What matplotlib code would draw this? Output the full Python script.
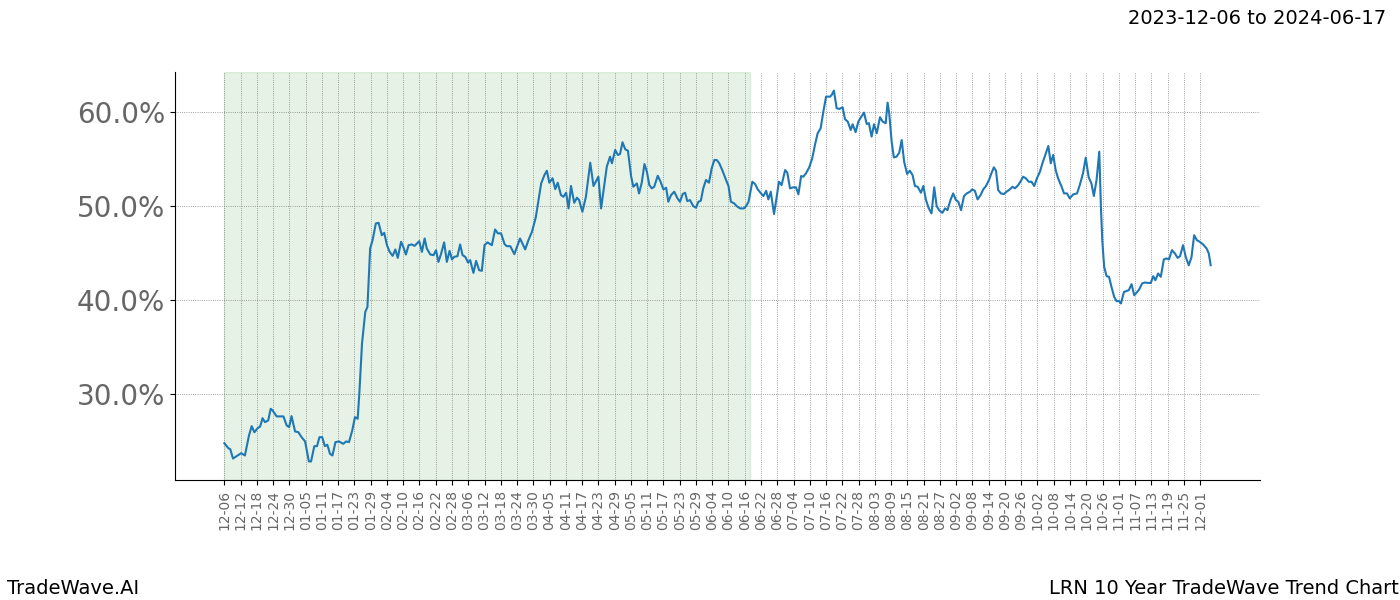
import numpy as np
import matplotlib
matplotlib.use('Agg')
import matplotlib.pyplot as plt
from matplotlib.ticker import FuncFormatter

# day offset from 2023-12-06 and trend value (%)
days = [0.0, 1.5, 2.2, 3.2, 4.5, 6.2, 7.6, 9.1, 10.1, 11.1, 12.3, 13.2, 14.1, 15.0, 16.2, 17.1, 17.8, 19.3, 21.8, 23.0,
        23.9, 24.8, 26.1, 27.3, 28.5, 29.8, 30.3, 31.2, 32.0, 33.2, 34.2, 35.1, 36.1, 37.1, 38.0, 39.0, 39.9, 41.0, 42.3, 43.9,
        44.9, 46.0, 47.2, 48.2, 49.2, 49.8, 50.8, 52.0, 52.8, 53.8, 54.7, 55.9, 56.9, 58.1, 59.0, 60.0, 61.0, 62.1, 63.1, 64.0,
        65.2, 66.1, 67.0, 68.0, 69.2, 70.2, 71.9, 72.9, 73.9, 74.7, 76.0, 77.2, 78.1, 79.0, 80.0, 81.1, 82.1, 83.1, 84.0, 84.8,
        86.0, 87.0, 87.9, 88.9, 89.9, 90.7, 91.9, 92.9, 94.0, 95.0, 96.0, 97.1, 98.7, 99.9, 100.9, 102.1, 103.4, 104.2, 105.5, 107.0,
        109.1, 111.0, 112.2, 113.5, 114.9, 115.9, 116.9, 118.1, 119.0, 119.9, 121.1, 122.1, 123.0, 124.2, 125.1, 126.1, 127.0, 127.9, 129.1, 130.1,
        130.9, 132.1, 133.4, 135.0, 136.2, 138.0, 139.0, 141.1, 142.3, 143.0, 144.2, 145.2, 146.0, 146.9, 147.9, 148.9, 150.1, 150.9, 152.2, 153.0,
        154.0, 155.0, 155.9, 156.8, 157.7, 158.6, 159.9, 160.8, 162.0, 163.0, 163.8, 164.8, 166.0, 167.2, 168.1, 169.1, 170.0, 170.8, 171.8, 173.0,
        174.0, 174.9, 175.8, 176.7, 177.7, 178.8, 179.8, 180.8, 181.7, 182.6, 183.7, 185.0, 186.0, 186.9, 188.1, 189.0, 190.3, 191.7, 192.5, 193.4,
        194.0, 194.8, 195.8, 196.8, 198.0, 198.9, 199.9, 200.7, 201.6, 202.8, 203.8, 204.6, 205.6, 206.9, 207.7, 208.7, 209.9, 210.9, 211.8, 212.8,
        213.6, 214.6, 215.8, 216.9, 217.9, 218.9, 220.0, 221.0, 222.0, 223.5, 224.1, 224.9, 225.9, 226.9, 228.1, 229.0, 230.0, 231.1, 231.8, 232.9,
        233.9, 234.9, 236.0, 237.0, 237.8, 238.8, 239.7, 240.7, 241.9, 242.9, 244.0, 244.7, 245.3, 246.2, 247.0, 248.0, 249.0, 249.9, 250.8, 251.9,
        252.9, 253.9, 254.8, 255.8, 257.0, 257.9, 258.8, 259.9, 260.9, 261.9, 262.8, 263.7, 264.9, 265.9, 266.8, 267.9, 268.9, 269.9, 270.8, 271.8,
        272.9, 273.9, 275.1, 275.9, 276.9, 277.9, 279.0, 280.0, 281.0, 282.1, 283.1, 283.9, 284.7, 285.5, 286.5, 287.6, 288.6, 289.8, 290.8, 291.7,
        292.9, 293.9, 294.7, 295.7, 296.8, 297.8, 298.8, 299.8, 300.9, 301.9, 303.0, 304.0, 304.9, 305.8, 306.7, 307.6, 308.9, 309.8, 310.9, 311.9,
        313.2, 314.6, 315.6, 316.8, 317.8, 318.9, 319.9, 320.8, 321.8, 322.8, 323.4, 323.9, 324.6, 325.5, 326.4, 327.3, 328.3, 329.2, 330.0, 330.8,
        331.9, 332.9, 333.7, 334.7, 335.7, 336.5, 337.5, 338.6, 339.6, 340.8, 341.8, 342.7, 343.5, 344.5, 345.5, 346.6, 347.6, 348.5, 349.6, 350.7,
        351.7, 352.6, 353.7, 354.7, 355.8, 356.8, 357.8, 358.8, 359.9, 361.1, 362.4, 363.2, 363.9]

values = [24.74, 24.2, 24.1, 23.1, 23.35, 23.67, 23.43, 25.56, 26.55, 25.9, 26.34, 26.5, 27.4, 26.98, 27.16, 28.4, 28.23, 27.59, 27.59, 26.63,
          26.45, 27.62, 25.99, 25.91, 25.38, 24.92, 24.14, 22.79, 22.79, 24.42, 24.42, 25.38, 25.38, 24.42, 24.57, 23.6, 23.43, 24.85, 24.92, 24.67,
          24.92, 24.85, 26.1, 27.51, 27.34, 30.0, 35.35, 38.72, 39.25, 45.48, 46.37, 48.15, 48.22, 46.9, 47.15, 45.84, 45.12, 44.7, 45.38, 44.48,
          46.19, 45.59, 44.84, 45.84, 45.91, 45.76, 46.26, 45.12, 46.55, 45.48, 44.84, 44.77, 45.3, 44.05, 44.95, 46.13, 44.05, 45.23, 44.31, 44.59,
          44.66, 45.91, 44.77, 44.59, 43.99, 44.24, 42.88, 44.16, 43.17, 43.1, 45.84, 46.13, 45.84, 47.51, 47.09, 47.09, 45.94, 45.73, 45.73, 44.88,
          46.55, 45.38, 46.37, 47.26, 48.79, 50.64, 52.42, 53.31, 53.77, 52.49, 52.96, 51.81, 52.49, 51.17, 50.99, 51.42, 49.75, 52.14, 50.35, 50.89,
          50.64, 49.39, 50.99, 54.62, 52.14, 53.13, 49.75, 54.19, 55.26, 54.56, 55.98, 55.44, 55.55, 56.8, 56.05, 55.9, 53.13, 52.06, 52.42, 51.35,
          52.49, 54.48, 53.66, 52.24, 51.89, 52.06, 53.23, 52.7, 51.78, 51.95, 50.46, 51.17, 51.53, 50.82, 50.46, 51.28, 51.42, 50.53, 50.64, 50.0,
          49.82, 50.46, 50.57, 51.89, 52.78, 52.49, 54.02, 54.91, 54.91, 54.56, 53.84, 52.85, 52.14, 50.46, 50.29, 50.0, 49.75, 49.75, 50.0, 50.46,
          51.35, 52.59, 52.35, 51.78, 51.35, 51.07, 51.63, 50.71, 51.53, 49.15, 51.0, 52.6, 52.24, 53.84, 53.56, 51.89, 52.0, 52.0, 51.25, 53.2,
          53.13, 53.49, 54.13, 55.09, 56.51, 57.76, 58.29, 60.06, 61.66, 61.66, 61.85, 62.31, 60.43, 60.35, 60.53, 59.25, 59.0, 58.11, 58.72, 57.87,
          59.0, 59.47, 59.96, 58.75, 58.83, 57.4, 58.72, 57.76, 59.47, 59.0, 58.83, 61.02, 59.89, 56.86, 55.19, 55.26, 55.69, 57.04, 54.73, 53.42,
          53.77, 53.31, 52.14, 52.06, 51.42, 52.14, 50.71, 49.75, 49.22, 52.0, 50.0, 49.57, 49.28, 49.75, 49.57, 50.64, 51.35, 50.64, 50.46, 49.57,
          51.07, 51.35, 51.53, 51.78, 51.63, 50.71, 51.17, 51.78, 52.14, 52.78, 53.56, 54.13, 53.77, 51.71, 51.35, 51.28, 51.53, 51.78, 52.06, 51.89,
          52.24, 52.7, 53.13, 52.96, 52.59, 52.59, 52.14, 52.96, 53.66, 54.62, 55.55, 56.4, 54.56, 55.44, 53.84, 52.96, 52.06, 51.35, 51.35, 50.82,
          51.25, 51.35, 52.24, 53.49, 55.16, 53.06, 52.42, 51.07, 52.78, 55.8, 49.93, 46.37, 43.52, 42.53, 42.46, 41.39, 40.32, 39.86, 39.9, 39.62,
          40.85, 40.96, 41.04, 41.68, 40.5, 40.75, 41.11, 41.75, 41.86, 41.81, 41.81, 42.53, 42.1, 42.82, 42.46, 44.31, 44.42, 44.31, 45.3, 44.95,
          44.48, 44.66, 45.84, 44.59, 43.7, 44.52, 46.9, 46.37, 46.19, 45.91, 45.48, 44.95, 43.7]

tick_labels = ['12-06', '12-12', '12-18', '12-24', '12-30', '01-05', '01-11', '01-17', '01-23', '01-29',
               '02-04', '02-10', '02-16', '02-22', '02-28', '03-06', '03-12', '03-18', '03-24', '03-30',
               '04-05', '04-11', '04-17', '04-23', '04-29', '05-05', '05-11', '05-17', '05-23', '05-29',
               '06-04', '06-10', '06-16', '06-22', '06-28', '07-04', '07-10', '07-16', '07-22', '07-28',
               '08-03', '08-09', '08-15', '08-21', '08-27', '09-02', '09-08', '09-14', '09-20', '09-26',
               '10-02', '10-08', '10-14', '10-20', '10-26', '11-01', '11-07', '11-13', '11-19', '11-25', '12-01']
tick_step = 6
shade_start, shade_end = 0, 194

fig, ax = plt.subplots(figsize=(14, 6), dpi=100)
fig.subplots_adjust(left=0.125, right=0.9, top=0.88, bottom=0.2)

ax.axvspan(shade_start, shade_end, color='green', alpha=0.1)
ax.plot(days, values, color='#1f77b4', linewidth=1.5)

ax.set_xticks(np.arange(len(tick_labels)) * tick_step)
ax.set_xticklabels(tick_labels, rotation=90, fontsize=10, color='#666666')
ax.yaxis.set_major_formatter(FuncFormatter(lambda v, p: '%.1f%%' % v))
ax.tick_params(axis='y', labelsize=20, labelcolor='#666666')
ax.set_yticks([30, 40, 50, 60])

ax.grid(True, color='gray', linestyle=':', linewidth=0.6)
ax.spines['top'].set_visible(False)
ax.spines['right'].set_visible(False)

fig.text(0.99, 0.97, '2023-12-06 to 2024-06-17', ha='right', va='center', fontsize=14)
fig.text(0.005, 0.02, 'TradeWave.AI', ha='left', va='center', fontsize=14)
fig.text(0.999, 0.02, 'LRN 10 Year TradeWave Trend Chart', ha='right', va='center', fontsize=14)

fig.savefig('out.png')
